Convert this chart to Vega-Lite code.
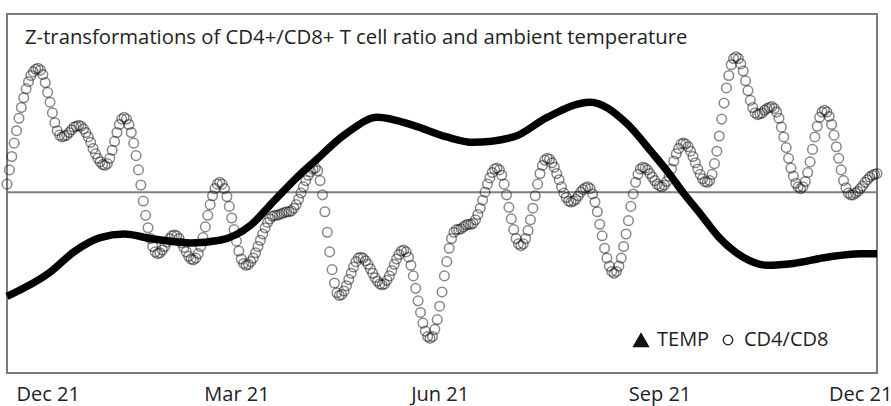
{
"$schema": "https://vega.github.io/schema/vega-lite/v6.json",
"width": 870,
"height": 359,
"autosize": "none",
"padding": {"left": 7, "top": 14, "right": 14, "bottom": 33},
"config": {"view": {"stroke": "#7a7a7a", "strokeWidth": 2}, "font": "Open Sans",
 "legend": {"orient": "none", "legendX": 624, "legendY": 316, "direction": "horizontal", "title": null, "labelFontSize": 20, "labelFont": "Open Sans", "labelColor": "#222", "symbolStrokeWidth": 1.2, "labelOffset": 6, "columnPadding": 8, "padding": 0}},
"title": {"text": "Z-transformations of CD4+/CD8+ T cell ratio and ambient temperature", "anchor": "start", "frame": "group", "baseline": "top", "offset": 0, "dx": 18, "dy": 34, "fontSize": 20.3, "fontWeight": "normal", "color": "#222", "font": "Open Sans"},
"datasets": {
"temp": [
{"d":0,"v":-1.17},{"d":18,"v":-0.90},{"d":28,"v":-0.67},{"d":39,"v":-0.51},{"d":49,"v":-0.47},{"d":60,"v":-0.52},{"d":77,"v":-0.57},{"d":89,"v":-0.54},{"d":102,"v":-0.37},{"d":112,"v":-0.09},{"d":123,"v":0.21},{"d":128,"v":0.33},{"d":142,"v":0.66},{"d":155,"v":0.84},{"d":170,"v":0.75},{"d":184,"v":0.62},{"d":195,"v":0.56},{"d":212,"v":0.62},{"d":226,"v":0.84},{"d":244,"v":1.01},{"d":259,"v":0.78},{"d":270,"v":0.44},{"d":277,"v":0.21},{"d":283,"v":-0.01},{"d":290,"v":-0.24},{"d":298,"v":-0.51},{"d":308,"v":-0.73},{"d":318,"v":-0.82},{"d":329,"v":-0.80},{"d":343,"v":-0.73},{"d":357,"v":-0.69},{"d":364,"v":-0.69}
],
"cd4": [
{"d":0,"v":0.09},{"d":1,"v":0.25},{"d":2,"v":0.40},{"d":3,"v":0.55},{"d":4,"v":0.69},{"d":5,"v":0.83},{"d":6,"v":0.95},{"d":7,"v":1.06},{"d":8,"v":1.16},{"d":9,"v":1.24},
{"d":10,"v":1.31},{"d":11,"v":1.35},{"d":12,"v":1.38},{"d":13,"v":1.39},{"d":14,"v":1.37},{"d":15,"v":1.32},{"d":16,"v":1.23},{"d":17,"v":1.12},{"d":18,"v":1.01},{"d":19,"v":0.89},
{"d":20,"v":0.78},{"d":21,"v":0.69},{"d":22,"v":0.64},{"d":23,"v":0.62},{"d":24,"v":0.63},{"d":25,"v":0.64},{"d":26,"v":0.67},{"d":27,"v":0.70},{"d":28,"v":0.73},{"d":29,"v":0.74},
{"d":30,"v":0.75},{"d":31,"v":0.74},{"d":32,"v":0.71},{"d":33,"v":0.67},{"d":34,"v":0.62},{"d":35,"v":0.56},{"d":36,"v":0.49},{"d":37,"v":0.43},{"d":38,"v":0.38},{"d":39,"v":0.34},
{"d":40,"v":0.31},{"d":41,"v":0.30},{"d":42,"v":0.32},{"d":43,"v":0.38},{"d":44,"v":0.47},{"d":45,"v":0.57},{"d":46,"v":0.67},{"d":47,"v":0.76},{"d":48,"v":0.82},{"d":49,"v":0.84},
{"d":50,"v":0.82},{"d":51,"v":0.76},{"d":52,"v":0.67},{"d":53,"v":0.55},{"d":54,"v":0.41},{"d":55,"v":0.25},{"d":56,"v":0.08},{"d":57,"v":-0.10},{"d":58,"v":-0.26},{"d":59,"v":-0.40},
{"d":60,"v":-0.52},{"d":61,"v":-0.61},{"d":62,"v":-0.67},{"d":63,"v":-0.69},{"d":64,"v":-0.68},{"d":65,"v":-0.65},{"d":66,"v":-0.61},{"d":67,"v":-0.56},{"d":68,"v":-0.52},{"d":69,"v":-0.49},
{"d":70,"v":-0.48},{"d":71,"v":-0.49},{"d":72,"v":-0.52},{"d":73,"v":-0.57},{"d":74,"v":-0.62},{"d":75,"v":-0.67},{"d":76,"v":-0.72},{"d":77,"v":-0.75},{"d":78,"v":-0.76},{"d":79,"v":-0.74},
{"d":80,"v":-0.69},{"d":81,"v":-0.61},{"d":82,"v":-0.51},{"d":83,"v":-0.39},{"d":84,"v":-0.26},{"d":85,"v":-0.14},{"d":86,"v":-0.04},{"d":87,"v":0.04},{"d":88,"v":0.09},{"d":89,"v":0.11},
{"d":90,"v":0.09},{"d":91,"v":0.04},{"d":92,"v":-0.05},{"d":93,"v":-0.16},{"d":94,"v":-0.29},{"d":95,"v":-0.42},{"d":96,"v":-0.55},{"d":97,"v":-0.66},{"d":98,"v":-0.75},{"d":99,"v":-0.80},
{"d":100,"v":-0.82},{"d":101,"v":-0.81},{"d":102,"v":-0.78},{"d":103,"v":-0.74},{"d":104,"v":-0.68},{"d":105,"v":-0.61},{"d":106,"v":-0.54},{"d":107,"v":-0.47},{"d":108,"v":-0.40},{"d":109,"v":-0.34},
{"d":110,"v":-0.30},{"d":111,"v":-0.27},{"d":112,"v":-0.26},{"d":113,"v":-0.26},{"d":114,"v":-0.25},{"d":115,"v":-0.24},{"d":116,"v":-0.23},{"d":117,"v":-0.22},{"d":118,"v":-0.22},{"d":119,"v":-0.21},
{"d":120,"v":-0.18},{"d":121,"v":-0.14},{"d":122,"v":-0.08},{"d":123,"v":-0.01},{"d":124,"v":0.06},{"d":125,"v":0.13},{"d":126,"v":0.19},{"d":127,"v":0.23},{"d":128,"v":0.26},{"d":129,"v":0.27},
{"d":130,"v":0.24},{"d":131,"v":0.13},{"d":132,"v":-0.03},{"d":133,"v":-0.22},{"d":134,"v":-0.45},{"d":135,"v":-0.67},{"d":136,"v":-0.87},{"d":137,"v":-1.02},{"d":138,"v":-1.13},{"d":139,"v":-1.16},
{"d":140,"v":-1.15},{"d":141,"v":-1.11},{"d":142,"v":-1.05},{"d":143,"v":-0.98},{"d":144,"v":-0.91},{"d":145,"v":-0.84},{"d":146,"v":-0.78},{"d":147,"v":-0.74},{"d":148,"v":-0.73},{"d":149,"v":-0.74},
{"d":150,"v":-0.77},{"d":151,"v":-0.81},{"d":152,"v":-0.86},{"d":153,"v":-0.91},{"d":154,"v":-0.96},{"d":155,"v":-1.00},{"d":156,"v":-1.03},{"d":157,"v":-1.04},{"d":158,"v":-1.03},{"d":159,"v":-0.99},
{"d":160,"v":-0.94},{"d":161,"v":-0.88},{"d":162,"v":-0.81},{"d":163,"v":-0.75},{"d":164,"v":-0.70},{"d":165,"v":-0.66},{"d":166,"v":-0.65},{"d":167,"v":-0.67},{"d":168,"v":-0.73},{"d":169,"v":-0.82},
{"d":170,"v":-0.94},{"d":171,"v":-1.08},{"d":172,"v":-1.22},{"d":173,"v":-1.35},{"d":174,"v":-1.47},{"d":175,"v":-1.56},{"d":176,"v":-1.62},{"d":177,"v":-1.64},{"d":178,"v":-1.62},{"d":179,"v":-1.54},
{"d":180,"v":-1.43},{"d":181,"v":-1.28},{"d":182,"v":-1.12},{"d":183,"v":-0.94},{"d":184,"v":-0.78},{"d":185,"v":-0.63},{"d":186,"v":-0.52},{"d":187,"v":-0.45},{"d":188,"v":-0.42},{"d":189,"v":-0.42},
{"d":190,"v":-0.41},{"d":191,"v":-0.39},{"d":192,"v":-0.37},{"d":193,"v":-0.36},{"d":194,"v":-0.36},{"d":195,"v":-0.35},{"d":196,"v":-0.31},{"d":197,"v":-0.25},{"d":198,"v":-0.18},{"d":199,"v":-0.09},
{"d":200,"v":0.00},{"d":201,"v":0.09},{"d":202,"v":0.16},{"d":203,"v":0.22},{"d":204,"v":0.26},{"d":205,"v":0.27},{"d":206,"v":0.25},{"d":207,"v":0.19},{"d":208,"v":0.09},{"d":209,"v":-0.03},
{"d":210,"v":-0.17},{"d":211,"v":-0.30},{"d":212,"v":-0.42},{"d":213,"v":-0.52},{"d":214,"v":-0.58},{"d":215,"v":-0.60},{"d":216,"v":-0.58},{"d":217,"v":-0.52},{"d":218,"v":-0.43},{"d":219,"v":-0.31},
{"d":220,"v":-0.18},{"d":221,"v":-0.04},{"d":222,"v":0.09},{"d":223,"v":0.21},{"d":224,"v":0.30},{"d":225,"v":0.36},{"d":226,"v":0.38},{"d":227,"v":0.37},{"d":228,"v":0.33},{"d":229,"v":0.28},
{"d":230,"v":0.21},{"d":231,"v":0.14},{"d":232,"v":0.06},{"d":233,"v":-0.01},{"d":234,"v":-0.06},{"d":235,"v":-0.10},{"d":236,"v":-0.11},{"d":237,"v":-0.10},{"d":238,"v":-0.08},{"d":239,"v":-0.04},
{"d":240,"v":0.00},{"d":241,"v":0.03},{"d":242,"v":0.05},{"d":243,"v":0.06},{"d":244,"v":0.04},{"d":245,"v":-0.02},{"d":246,"v":-0.11},{"d":247,"v":-0.22},{"d":248,"v":-0.36},{"d":249,"v":-0.49},
{"d":250,"v":-0.63},{"d":251,"v":-0.74},{"d":252,"v":-0.83},{"d":253,"v":-0.89},{"d":254,"v":-0.91},{"d":255,"v":-0.89},{"d":256,"v":-0.83},{"d":257,"v":-0.74},{"d":258,"v":-0.61},{"d":259,"v":-0.47},
{"d":260,"v":-0.32},{"d":261,"v":-0.16},{"d":262,"v":-0.02},{"d":263,"v":0.11},{"d":264,"v":0.20},{"d":265,"v":0.26},{"d":266,"v":0.28},{"d":267,"v":0.27},{"d":268,"v":0.25},{"d":269,"v":0.21},
{"d":270,"v":0.17},{"d":271,"v":0.13},{"d":272,"v":0.09},{"d":273,"v":0.07},{"d":274,"v":0.06},{"d":275,"v":0.08},{"d":276,"v":0.12},{"d":277,"v":0.18},{"d":278,"v":0.26},{"d":279,"v":0.35},
{"d":280,"v":0.43},{"d":281,"v":0.49},{"d":282,"v":0.54},{"d":283,"v":0.55},{"d":284,"v":0.54},{"d":285,"v":0.51},{"d":286,"v":0.46},{"d":287,"v":0.40},{"d":288,"v":0.33},{"d":289,"v":0.26},
{"d":290,"v":0.20},{"d":291,"v":0.15},{"d":292,"v":0.12},{"d":293,"v":0.11},{"d":294,"v":0.13},{"d":295,"v":0.20},{"d":296,"v":0.32},{"d":297,"v":0.46},{"d":298,"v":0.63},{"d":299,"v":0.82},
{"d":300,"v":1.00},{"d":301,"v":1.17},{"d":302,"v":1.31},{"d":303,"v":1.43},{"d":304,"v":1.50},{"d":305,"v":1.52},{"d":306,"v":1.50},{"d":307,"v":1.44},{"d":308,"v":1.36},{"d":309,"v":1.25},
{"d":310,"v":1.14},{"d":311,"v":1.03},{"d":312,"v":0.95},{"d":313,"v":0.89},{"d":314,"v":0.87},{"d":315,"v":0.88},{"d":316,"v":0.89},{"d":317,"v":0.92},{"d":318,"v":0.94},{"d":319,"v":0.95},
{"d":320,"v":0.96},{"d":321,"v":0.94},{"d":322,"v":0.90},{"d":323,"v":0.83},{"d":324,"v":0.73},{"d":325,"v":0.62},{"d":326,"v":0.50},{"d":327,"v":0.38},{"d":328,"v":0.27},{"d":329,"v":0.18},
{"d":330,"v":0.10},{"d":331,"v":0.06},{"d":332,"v":0.04},{"d":333,"v":0.06},{"d":334,"v":0.12},{"d":335,"v":0.22},{"d":336,"v":0.34},{"d":337,"v":0.48},{"d":338,"v":0.62},{"d":339,"v":0.74},
{"d":340,"v":0.84},{"d":341,"v":0.90},{"d":342,"v":0.92},{"d":343,"v":0.90},{"d":344,"v":0.85},{"d":345,"v":0.76},{"d":346,"v":0.64},{"d":347,"v":0.51},{"d":348,"v":0.38},{"d":349,"v":0.25},
{"d":350,"v":0.13},{"d":351,"v":0.05},{"d":352,"v":-0.01},{"d":353,"v":-0.03},{"d":354,"v":-0.03},{"d":355,"v":-0.01},{"d":356,"v":0.01},{"d":357,"v":0.04},{"d":358,"v":0.07},{"d":359,"v":0.11},
{"d":360,"v":0.14},{"d":361,"v":0.17},{"d":362,"v":0.19},{"d":363,"v":0.20},{"d":364,"v":0.21}
]
},
"layer": [
{"data": {"values": [{}]}, "mark": {"type": "rule", "color": "#808080", "strokeWidth": 2}, "encoding": {"y": {"datum": 0, "type": "quantitative", "scale": {"domain": [-2.03, 2.0], "nice": false, "zero": false}, "axis": null}}},
{"data": {"name": "cd4"}, "mark": {"type": "point", "filled": true, "strokeOpacity": 0.5, "strokeWidth": 1.5, "opacity": 1},
 "encoding": {
  "x": {"field": "d", "type": "quantitative", "scale": {"domain": [0, 364], "nice": false, "zero": false}, "axis": {"values": [17, 96, 181, 273, 357], "labelExpr": "datum.value < 50 ? 'Dec 21' : datum.value < 150 ? 'Mar 21' : datum.value < 220 ? 'Jun 21' : datum.value < 300 ? 'Sep 21' : 'Dec 21'", "ticks": false, "domain": false, "grid": false, "title": null, "labelFontSize": 20, "labelColor": "#222", "labelPadding": 11, "labelFont": "Open Sans", "labelFlush": false, "labelOverlap": false, "labelBound": false}},
  "y": {"field": "v", "type": "quantitative", "scale": {"domain": [-2.03, 2.0], "nice": false, "zero": false}, "axis": null},
  "shape": {"datum": "CD4/CD8", "scale": {"domain": ["TEMP", "CD4/CD8"], "range": ["triangle-up", "circle"]}},
  "fill": {"datum": "CD4/CD8", "scale": {"domain": ["TEMP", "CD4/CD8"], "range": ["#111", "transparent"]}},
  "stroke": {"datum": "CD4/CD8", "scale": {"domain": ["TEMP", "CD4/CD8"], "range": ["#111", "#111"]}},
  "size": {"datum": "CD4/CD8", "type": "nominal", "scale": {"type": "ordinal", "domain": ["TEMP", "CD4/CD8"], "range": [230, 92]}}
 }},
{"data": {"name": "temp"}, "mark": {"type": "line", "color": "black", "strokeWidth": 7.5, "interpolate": "monotone"},
 "encoding": {
  "x": {"field": "d", "type": "quantitative", "scale": {"domain": [0, 364], "nice": false, "zero": false}},
  "y": {"field": "v", "type": "quantitative", "scale": {"domain": [-2.03, 2.0], "nice": false, "zero": false}, "axis": null}
 }}
]
}
